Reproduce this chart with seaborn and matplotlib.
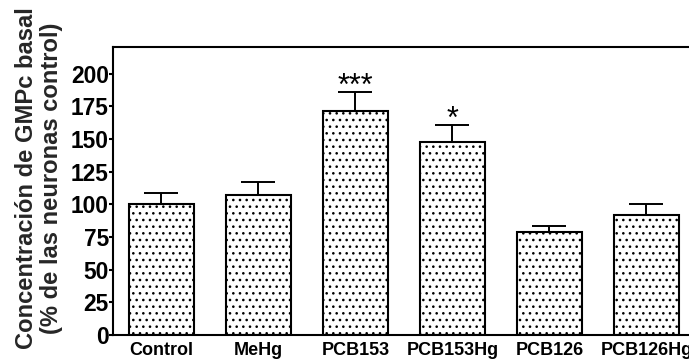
import matplotlib
matplotlib.use("Agg")
import matplotlib.pyplot as plt
import seaborn as sns
import pandas as pd

# Basal cGMP levels as % of control neurons
groups = ["Control", "MeHg", "PCB153", "PCB153Hg", "PCB126", "PCB126Hg"]
means = [100, 107, 171.5, 148, 78.5, 92]
errors = [8.5, 10.5, 14.5, 12.5, 5.3, 8.2]
significance = ["", "", "***", "*", "", ""]

DPI = 120
S = 100 / DPI  # keeps point sizes tuned for 100 dpi

sns.set_theme(style="white")
plt.rcParams["font.family"] = ["Liberation Sans", "DejaVu Sans"]
plt.rcParams["hatch.linewidth"] = 0.9 * S

df = pd.DataFrame({"group": groups, "value": means})

fig = plt.figure(figsize=(689 / DPI, 362 / DPI), dpi=DPI)
ax = fig.add_axes([0.164, 0.0746, 0.836, 0.7965])

sns.barplot(data=df, x="group", y="value", ax=ax, color="white",
            edgecolor="black", linewidth=1.5 * S, width=0.67,
            errorbar=None, zorder=2)
for bar in ax.patches:
    bar.set_hatch("...")

ax.errorbar(range(len(groups)), means,
            yerr=[[0] * len(groups), errors],
            fmt="none", ecolor="black", elinewidth=1.4 * S,
            capsize=12 * S, capthick=1.4 * S, zorder=1)

for i, (m, e, s) in enumerate(zip(means, errors, significance)):
    if s:
        ax.text(i, m + e - 7.5, s, ha="center", va="bottom",
                fontsize=22 * S, color="black")

ax.set_xlim(-0.5, 5.44)
ax.set_ylim(0, 220.8)
ax.set_yticks([0, 25, 50, 75, 100, 125, 150, 175, 200])
ax.set_xlabel("")
ax.set_ylabel("Concentración de GMPc basal\n(% de las neuronas control)",
              fontsize=17.1 * S, fontweight="bold", linespacing=1.12)
ax.yaxis.set_label_coords(-0.087, 0.543)

for side in ["left", "bottom", "top"]:
    ax.spines[side].set_visible(True)
    ax.spines[side].set_color("black")
    ax.spines[side].set_linewidth(1.5 * S)
ax.spines["right"].set_visible(False)

ax.tick_params(axis="y", which="major", left=True, length=2.6 * S,
               width=1.5 * S, direction="out", pad=0.3 * S,
               labelsize=16.4 * S, colors="black")
ax.tick_params(axis="x", which="major", bottom=False, length=0, pad=5 * S,
               labelsize=13 * S, colors="black")
for lbl in ax.get_yticklabels() + ax.get_xticklabels():
    lbl.set_fontweight("bold")

fig.savefig("out.png", dpi=DPI)
